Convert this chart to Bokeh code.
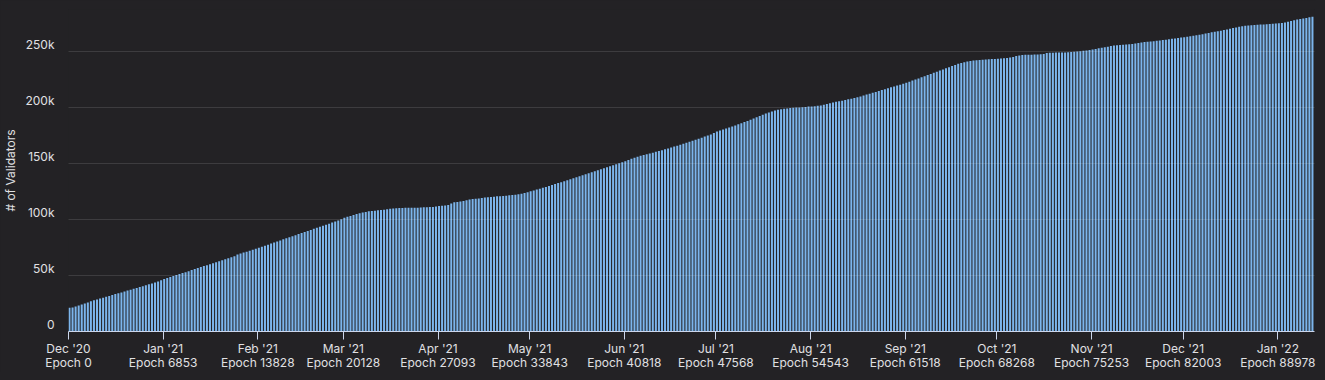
import pandas as pd
from bokeh.plotting import figure
from bokeh.models import Range1d, FixedTicker, ColumnDataSource, LinearAxis
from bokeh.embed import file_html
from bokeh.resources import INLINE

# ---- data (validators, thousands, one value per day from 1 Dec 2020) ----
dec_20 = [21.1, 21.5, 22.4, 23.3, 24.2, 25.1, 26.0, 26.9, 27.8, 28.6, 29.4, 30.2, 31.0, 31.8, 32.6, 33.4,
          34.1, 34.9, 35.7, 36.5, 37.3, 38.1, 38.9, 39.7, 40.5, 41.3, 42.1, 42.9, 43.8, 44.7, 45.8]
jan_21 = [46.9, 47.8, 48.7, 49.5, 50.4, 51.3, 52.2, 53.0, 53.9, 54.8, 55.7, 56.6, 57.5, 58.4, 59.2, 60.1,
          61.0, 61.9, 62.8, 63.7, 64.5, 65.4, 66.3, 67.2, 68.8, 69.7, 70.5, 71.3, 72.2, 73.1, 73.9]
feb_21 = [74.8, 75.7, 76.6, 77.5, 78.5, 79.4, 80.4, 81.3, 82.3, 83.2, 84.2, 85.1, 86.0, 87.0, 87.9, 88.8,
          89.8, 90.7, 91.7, 92.6, 93.5, 94.4, 95.4, 96.3, 97.3, 98.2, 99.2, 100.3]
mar_21 = [101.5, 102.4, 103.2, 104.0, 104.8, 105.5, 106.2, 106.8, 107.3, 107.6, 107.9, 108.2, 108.5, 108.8,
          109.2, 109.5, 109.8, 110.0, 110.2, 110.3, 110.4, 110.5, 110.5, 110.5, 110.6, 110.7, 110.9, 111.0,
          111.1, 111.2, 111.5]
apr_21 = [112.0, 112.3, 112.6, 113.0, 114.2, 115.3, 115.6, 116.0, 116.6, 117.2, 117.8, 118.2, 118.5, 118.8,
          119.2, 119.6, 119.9, 120.1, 120.4, 120.7, 120.8, 121.0, 121.3, 121.6, 121.8, 122.2, 122.6, 123.0,
          123.6, 124.4]
may_21 = [125.3, 126.0, 126.7, 127.5, 128.3, 129.1, 129.9, 130.8, 131.6, 132.5, 133.3, 134.1, 135.0, 135.9,
          136.8, 137.7, 138.6, 139.5, 140.4, 141.3, 142.2, 143.1, 144.0, 144.9, 145.8, 146.7, 147.6, 148.5,
          149.4, 150.3, 151.2]
jun_21 = [152.1, 153.2, 154.2, 155.1, 156.0, 156.9, 157.6, 158.3, 159.0, 159.7, 160.4, 161.1, 161.9, 162.7,
          163.5, 164.3, 165.1, 165.9, 166.7, 167.6, 168.5, 169.4, 170.3, 171.2, 172.1, 173.0, 174.0, 175.0,
          176.0, 177.2]
jul_21 = [178.6, 179.5, 180.4, 181.3, 182.2, 183.1, 184.0, 185.0, 186.0, 187.0, 188.0, 189.1, 190.2, 191.3,
          192.4, 193.5, 194.6, 195.6, 196.5, 197.3, 198.0, 198.5, 198.9, 199.2, 199.5, 199.7, 199.9, 200.0,
          200.2, 200.5, 200.8]
aug_21 = [201.0, 201.2, 201.5, 201.8, 202.5, 203.2, 203.9, 204.5, 205.1, 205.6, 206.1, 206.7, 207.3, 207.9,
          208.5, 209.2, 209.9, 210.7, 211.5, 212.3, 213.1, 213.9, 214.8, 215.6, 216.4, 217.2, 218.0, 218.8,
          219.6, 220.4, 221.2]
sep_21 = [222.0, 223.0, 224.0, 225.0, 226.0, 227.0, 228.0, 229.0, 230.0, 231.0, 232.0, 233.0, 234.0, 235.0,
          236.0, 237.0, 238.0, 239.0, 239.8, 240.5, 241.1, 241.6, 242.0, 242.2, 242.4, 242.6, 242.8, 243.0,
          243.2, 243.4]
oct_21 = [243.6, 243.7, 243.9, 244.1, 244.6, 245.2, 245.9, 246.5, 246.9, 247.0, 247.1, 247.2, 247.3, 247.4,
          247.5, 247.7, 248.6, 248.8, 248.9, 249.0, 249.0, 249.1, 249.2, 249.4, 249.6, 249.7, 249.9, 250.2,
          250.6, 251.0, 251.4]
nov_21 = [251.8, 252.3, 252.8, 253.3, 253.8, 254.3, 254.8, 255.3, 255.6, 255.8, 256.0, 256.2, 256.5, 256.8,
          257.2, 257.6, 258.0, 258.4, 258.8, 259.0, 259.2, 259.5, 259.8, 260.2, 260.6, 261.0, 261.3, 261.6,
          262.0, 262.4]
dec_21 = [262.8, 263.2, 263.6, 264.0, 264.5, 265.0, 265.5, 266.0, 266.6, 267.1, 267.6, 268.1, 268.6, 269.1,
          269.7, 270.3, 270.9, 271.5, 272.0, 272.5, 272.9, 273.2, 273.4, 273.6, 273.8, 274.0, 274.2, 274.4,
          274.6, 274.8, 275.0]
jan_22 = [275.2, 275.5, 275.8, 276.5, 277.3, 278.0, 278.5, 279.0, 279.5, 280.0, 280.5, 281.0]

start_date = "2020-12-01"
month_starts = ["2020-12-01", "2021-01-01", "2021-02-01", "2021-03-01", "2021-04-01", "2021-05-01",
                "2021-06-01", "2021-07-01", "2021-08-01", "2021-09-01", "2021-10-01", "2021-11-01",
                "2021-12-01", "2022-01-01"]
month_labels = ["Dec '20", "Jan '21", "Feb '21", "Mar '21", "Apr '21", "May '21", "Jun '21", "Jul '21",
                "Aug '21", "Sep '21", "Oct '21", "Nov '21", "Dec '21", "Jan '22"]
epoch_labels = [0, 6853, 13828, 20128, 27093, 33843, 40818, 47568, 54543, 61518, 68268, 75253, 82003, 88978]
y_ticks = [0, 50000, 100000, 150000, 200000, 250000]
y_tick_labels = ["0", "50k", "100k", "150k", "200k", "250k"]

# ---- build ----
series = (dec_20 + jan_21 + feb_21 + mar_21 + apr_21 + may_21 + jun_21 + jul_21 +
          aug_21 + sep_21 + oct_21 + nov_21 + dec_21 + jan_22)
values = [v * 1000 for v in series]
n = len(values)
start = pd.Timestamp(start_date)
day_idx = list(range(n))
src = ColumnDataSource(dict(x=[d + 0.33 for d in day_idx], top=values))

tick_pos = [(pd.Timestamp(m) - start).days for m in month_starts]

BG = "#232225"
TXT = "#e0e0e3"
FONT = "Inter"
Y_MAX = 287500
LABEL_SHIFT = 6250  # lifts y tick labels a few pixels above their grid lines

p = figure(frame_width=1246, frame_height=322, output_backend="svg", toolbar_location=None,
           x_range=Range1d(0, n), y_range=Range1d(0, Y_MAX),
           min_border_left=61, min_border_right=2, min_border_top=9, min_border_bottom=4,
           background_fill_color=BG, border_fill_color=BG, outline_line_color=None)
p.extra_y_ranges = {"lab": Range1d(-LABEL_SHIFT, Y_MAX - LABEL_SHIFT)}

p.vbar(x="x", top="top", width=0.66, bottom=0, source=src,
       fill_color="#7cb5ec", line_color=None)

# grid
p.xgrid.visible = False
p.ygrid.ticker = FixedTicker(ticks=y_ticks)
p.ygrid.grid_line_color = "#ffffff"
p.ygrid.grid_line_alpha = 0.12
p.ygrid.level = "overlay"

# x axis
xa = p.xaxis[0]
xa.ticker = FixedTicker(ticks=tick_pos)
xa.major_label_overrides = {t: f"{m}\nEpoch {e}" for t, m, e in zip(tick_pos, month_labels, epoch_labels)}
xa.axis_line_color = "#ccd6eb"
xa.major_tick_line_color = "#ccd6eb"
xa.major_tick_out = 8
xa.major_tick_in = 0
xa.minor_tick_line_color = None
xa.major_label_standoff = 1
xa.major_label_text_color = TXT
xa.major_label_text_font = FONT
xa.major_label_text_font_size = "12px"
xa.major_label_text_line_height = 0.95

# y axis (primary hidden; labels on a slightly shifted axis)
p.yaxis[0].visible = False
ya = LinearAxis(y_range_name="lab", bounds=(0, Y_MAX))
ya.ticker = FixedTicker(ticks=y_ticks)
ya.major_label_overrides = {t: l for t, l in zip(y_ticks, y_tick_labels)}
ya.axis_line_color = None
ya.major_tick_line_color = None
ya.minor_tick_line_color = None
ya.major_tick_out = 0
ya.major_tick_in = 0
ya.major_label_standoff = 14
ya.major_label_text_color = TXT
ya.major_label_text_font = FONT
ya.major_label_text_font_size = "12px"
ya.axis_label = "# of Validators"
ya.axis_label_text_color = TXT
ya.axis_label_text_font = FONT
ya.axis_label_text_font_size = "12px"
ya.axis_label_text_font_style = "normal"
ya.axis_label_standoff = 4
p.add_layout(ya, "left")

html = file_html(p, INLINE).replace("<body>", '<body style="background-color:#232225;">')
open("out.html", "w").write(html)
